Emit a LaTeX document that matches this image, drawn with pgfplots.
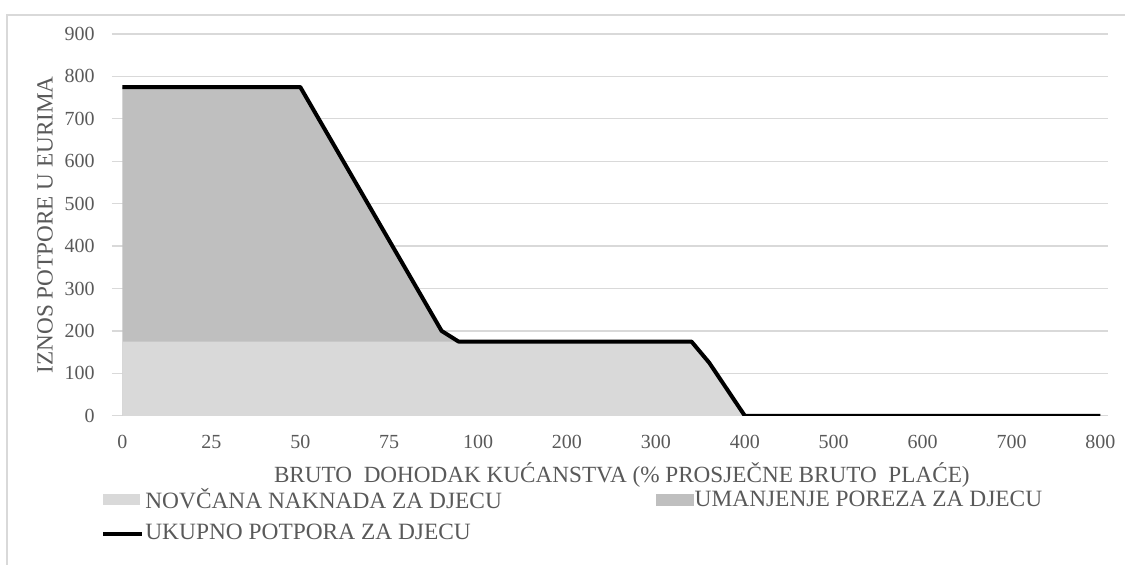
\documentclass[border=0pt]{standalone}
\usepackage{pgfplots}
\pgfplotsset{compat=1.18}
\usepackage{fontspec}
\setmainfont{Liberation Serif}

\definecolor{lightfill}{HTML}{D9D9D9}
\definecolor{darkfill}{HTML}{BFBFBF}
\definecolor{gridgray}{HTML}{D9D9D9}
\definecolor{txt}{HTML}{595959}

\begin{document}
\begin{tikzpicture}
\begin{axis}[
    at={(0,0)}, anchor=south west,
    scale only axis,
    width=498.25pt, height=191pt,
    xmin=-0.118, xmax=11.084,
    ymin=0, ymax=900,
    xtick={0,...,11},
    xticklabels={0,25,50,75,100,200,300,400,500,600,700,800},
    ytick={0,100,...,900},
    ymajorgrids=true,
    grid style={gridgray, line width=0.6pt},
    axis line style={draw=none},
    major tick length=0pt,
    /pgf/number format/assume math mode=true,
    tick label style={font=\fontsize{10}{12}\selectfont, text=txt},
    yticklabel style={anchor=east, inner sep=0pt, xshift=-8.5pt},
    xticklabel style={anchor=center, inner sep=0pt, yshift=-12.9pt},
    xlabel={BRUTO\ \ DOHODAK KUĆANSTVA (\% PROSJEČNE BRUTO\ \ PLAĆE)},
    ylabel={IZNOS POTPORE U EURIMA},
    label style={font=\fontsize{11.6}{13}\selectfont, text=txt},
    xlabel style={at={(axis description cs:0.512,-0.1545)}, anchor=center, inner sep=0pt},
    ylabel style={at={(axis description cs:-0.0672,0.5)}, anchor=center, inner sep=0pt},
    legend columns=2,
    legend cell align=left,
    legend style={
        at={(axis description cs:-0.011,-0.184)}, anchor=north west,
        draw=none, fill=none,
        font=\fontsize{11.7}{13}\selectfont, text=txt,
        inner sep=0pt, row sep=4.5pt,
        nodes={inner xsep=0.5pt, inner ysep=1pt},
        /tikz/every even column/.append style={column sep=76.5pt},
    },
]
% dark area first (closed down to 0), light area on top of it
\addplot[draw=none, fill=darkfill, forget plot]
coordinates {
    (0,775) (2,775) (3.59,200) (3.78,175) (3.78,0)
} \closedcycle;

\addplot[draw=none, fill=lightfill,
    legend image code/.code={\fill[lightfill] (0pt,-2.75pt) rectangle (18.5pt,2.75pt);}]
coordinates {
    (0,175) (3.78,175) (6.4,175) (6.6,125) (7,0)
} \closedcycle;
\addlegendentry{NOVČANA NAKNADA ZA DJECU}

\addlegendimage{legend image code/.code={\fill[darkfill] (0pt,-2.75pt) rectangle (18.5pt,2.75pt);}}
\addlegendentry{UMANJENJE POREZA ZA DJECU}

\addplot[black, line width=2pt, line join=round,
    legend image code/.code={\draw[black, line width=2pt] (0pt,0pt) -- (19.5pt,0pt);}]
coordinates {
    (0,775) (2,775) (3.59,200) (3.78,175) (6.4,175) (6.6,125) (7,0) (11,0)
};
\addlegendentry{UKUPNO POTPORA ZA DJECU}
\end{axis}
\draw[gridgray, line width=0.6pt] (-52.5pt,-74.5pt) -- (-52.5pt,200.5pt) -- (507pt,200.5pt);
\useasboundingbox (-56pt,-74.5pt) rectangle (507pt,208pt);
\end{tikzpicture}
\end{document}
